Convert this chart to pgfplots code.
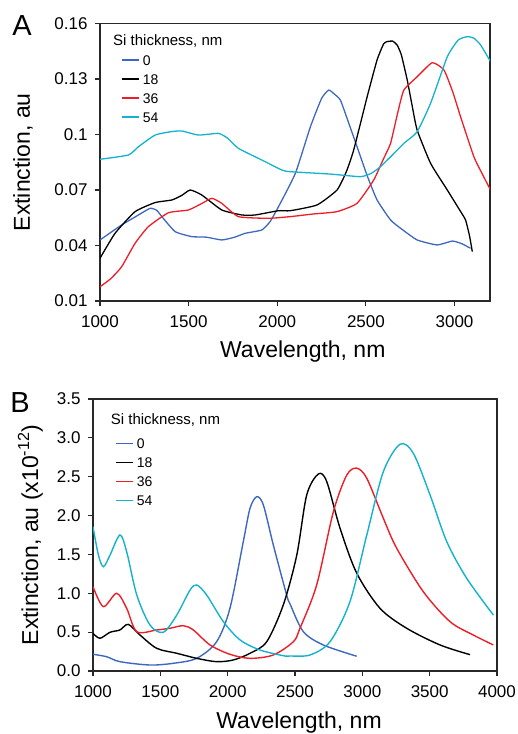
\documentclass[border=0pt]{standalone}
\usepackage{pgfplots}
\pgfplotsset{compat=1.18}
\usepackage{fontspec}
\setmainfont{Liberation Sans}

\definecolor{cblue}{RGB}{62,104,192}
\definecolor{cred}{RGB}{237,30,40}
\definecolor{ccyan}{RGB}{20,178,204}
\definecolor{axgray}{RGB}{40,40,40}

\pgfplotsset{
  panel/.style={
    scale only axis,
    axis line style={line width=1.6pt,axgray},
    tick style={line width=1.1pt,axgray},
    major tick length=5pt,
    tick align=outside,
    xtick pos=bottom, ytick pos=left,
    /pgf/number format/assume math mode=true,
    ticklabel style={font=\fontsize{17}{17}\selectfont},
    xticklabel style={/pgf/number format/1000 sep=,yshift=-6pt},
    yticklabel style={xshift=-4pt},
    label style={font=\fontsize{23}{23}\selectfont},
    legend style={draw=none,fill=none,inner sep=0pt,
      font=\fontsize{14}{14}\selectfont,row sep=9pt,column sep=3pt,
      nodes={inner sep=0pt,text height=10pt,text depth=0pt}},
    legend cell align=left,
    legend image code/.code={\draw[#1,line width=1.6pt] (0pt,0pt) -- (17pt,0pt);},
  },
}

\pgfplotstableread{
x y
1000 0.043
1060 0.047
1122 0.0511
1217 0.0565
1283 0.0601
1320 0.059
1349 0.0556
1424 0.0475
1518 0.0448
1600 0.0445
1687 0.0430
1760 0.0445
1819 0.0466
1913 0.0484
1960 0.053
2007 0.061
2102 0.079
2187 0.1042
2250 0.1195
2290 0.124
2320 0.122
2356 0.1186
2400 0.107
2450 0.0934
2510 0.077
2563 0.0646
2639 0.0538
2700 0.049
2789 0.043
2902 0.0403
2987 0.0424
3040 0.041
3090 0.0385
}\aZero

\pgfplotstableread{
x y
1000 0.0331
1085 0.0466
1198 0.0583
1311 0.0632
1405 0.0646
1460 0.067
1509 0.070
1574 0.0673
1687 0.0592
1800 0.0565
1875 0.0565
2007 0.0588
2073 0.0588
2224 0.0619
2337 0.070
2390 0.080
2431 0.0916
2507 0.1204
2563 0.1403
2600 0.149
2620 0.1502
2650 0.1505
2676 0.1484
2700 0.143
2733 0.1295
2760 0.116
2789 0.1024
2865 0.0844
2959 0.070
3030 0.059
3062 0.0538
3085 0.045
3100 0.0367
}\aEighteen

\pgfplotstableread{
x y
1000 0.0177
1060 0.022
1122 0.0285
1198 0.0412
1273 0.0502
1386 0.0577
1499 0.0592
1580 0.063
1631 0.0655
1687 0.0628
1781 0.0556
1951 0.0547
2073 0.0556
2200 0.057
2337 0.0583
2450 0.0628
2544 0.0754
2600 0.087
2639 0.0952
2680 0.112
2714 0.124
2789 0.1312
2874 0.1388
2940 0.1349
2990 0.123
3034 0.1096
3109 0.088
3160 0.078
3203 0.070
}\aThirtySix

\pgfplotstableread{
x y
1000 0.0866
1160 0.0889
1217 0.0934
1311 0.0997
1400 0.1015
1461 0.1019
1556 0.0997
1668 0.1006
1720 0.098
1781 0.0925
1913 0.0862
2026 0.0808
2073 0.0799
2300 0.0786
2469 0.0772
2530 0.079
2582 0.0826
2650 0.089
2714 0.0952
2789 0.1015
2865 0.1169
2959 0.142
3020 0.151
3072 0.1529
3110 0.152
3147 0.1484
3203 0.1394
}\aFiftyFour

\pgfplotstableread{
x y
1000 0.215
1101 0.184
1200 0.12
1423 0.077
1596 0.099
1770 0.163
1918 0.377
2017 0.807
2116 1.664
2166 2.094
2216 2.243
2265 2.136
2339 1.622
2438 0.978
2463 0.863
2562 0.506
2710 0.335
2958 0.190
}\bZero

\pgfplotstableread{
x y
1000 0.485
1052 0.421
1126 0.498
1200 0.528
1262 0.60
1349 0.463
1473 0.292
1622 0.228
1770 0.163
1918 0.12
2042 0.142
2166 0.228
2290 0.377
2413 0.85
2513 1.49
2587 2.265
2673 2.535
2735 2.44
2834 1.84
2958 1.26
3131 0.807
3329 0.55
3577 0.335
3800 0.210
}\bEighteen

\pgfplotstableread{
x y
1000 1.085
1077 0.828
1176 1.0
1250 0.807
1325 0.506
1473 0.528
1572 0.55
1671 0.583
1745 0.528
1869 0.335
2017 0.215
2166 0.163
2339 0.206
2488 0.377
2537 0.55
2661 1.107
2785 2.05
2884 2.52
2958 2.61
3033 2.48
3156 1.965
3255 1.58
3453 1.02
3651 0.635
3824 0.463
3973 0.335
}\bThirtySix

\pgfplotstableread{
x y
1000 1.857
1040 1.493
1077 1.342
1126 1.49
1200 1.75
1250 1.535
1325 0.978
1423 0.592
1522 0.498
1622 0.72
1720 1.04
1770 1.107
1844 0.978
1968 0.635
2092 0.40
2240 0.27
2413 0.197
2463 0.193
2611 0.206
2760 0.377
2908 0.892
3033 1.75
3156 2.565
3280 2.918
3379 2.80
3503 2.265
3627 1.664
3775 1.193
3973 0.72
}\bFiftyFour

\begin{document}
\begin{tikzpicture}
\useasboundingbox (0,0) rectangle (518pt,734pt);

\node[font=\fontsize{29}{29}\selectfont] at (22pt,708pt) {A};
\node[font=\fontsize{29}{29}\selectfont] at (20pt,331pt) {B};

\begin{axis}[panel,
  at={(100pt,433pt)}, anchor=south west,
  width=390pt, height=277.5pt,
  xmin=1000, xmax=3200, ymin=0.01, ymax=0.16,
  xtick={1000,1500,2000,2500,3000},
  ytick={0.01,0.04,0.07,0.1,0.13,0.16},
  yticklabels={0.01,0.04,0.07,0.1,0.13,0.16},
  xlabel={Wavelength, nm}, ylabel={Extinction, au},
  xlabel style={at={(axis description cs:0.52,-0.205)},anchor=base},
  ylabel style={at={(axis description cs:-0.18,0.5)},anchor=base,rotate=0},
  legend style={at={(axis description cs:0.0538,0.8865)},anchor=north west},
]
\addplot[cblue,line width=1.3pt,smooth,tension=0.3] table {\aZero};
\addplot[black,line width=1.3pt,smooth,tension=0.3] table {\aEighteen};
\addplot[cred,line width=1.3pt,smooth,tension=0.3] table {\aThirtySix};
\addplot[ccyan,line width=1.3pt,smooth,tension=0.3] table {\aFiftyFour};
\legend{0,18,36,54}
\node[anchor=west,font=\fontsize{15}{15}\selectfont,inner sep=0pt]
  at (rel axis cs:0.0333,0.938) {Si thickness, nm};
\end{axis}

\begin{axis}[panel,
  at={(93pt,63pt)}, anchor=south west,
  width=404pt, height=272pt,
  xmin=1000, xmax=4000, ymin=0, ymax=3.5,
  xtick={1000,1500,...,4000},
  ytick={0,0.5,...,3.5},
  yticklabel style={/pgf/number format/.cd,fixed,fixed zerofill,precision=1},
  xlabel={Wavelength, nm}, ylabel={Extinction, au (x10\textsuperscript{-12})},
  xlabel style={at={(axis description cs:0.51,-0.21)},anchor=base},
  ylabel style={at={(axis description cs:-0.136,0.5)},anchor=base,rotate=0},
  legend style={at={(axis description cs:0.0545,0.8555)},anchor=north west},
]
\addplot[cblue,line width=1.4pt,smooth,tension=0.5] table {\bZero};
\addplot[black,line width=1.4pt,smooth,tension=0.5] table {\bEighteen};
\addplot[cred,line width=1.4pt,smooth,tension=0.5] table {\bThirtySix};
\addplot[ccyan,line width=1.4pt,smooth,tension=0.5] table {\bFiftyFour};
\legend{0,18,36,54}
\node[anchor=west,font=\fontsize{15}{15}\selectfont,inner sep=0pt]
  at (rel axis cs:0.0438,0.9228) {Si thickness, nm};
\end{axis}
\end{tikzpicture}
\end{document}
